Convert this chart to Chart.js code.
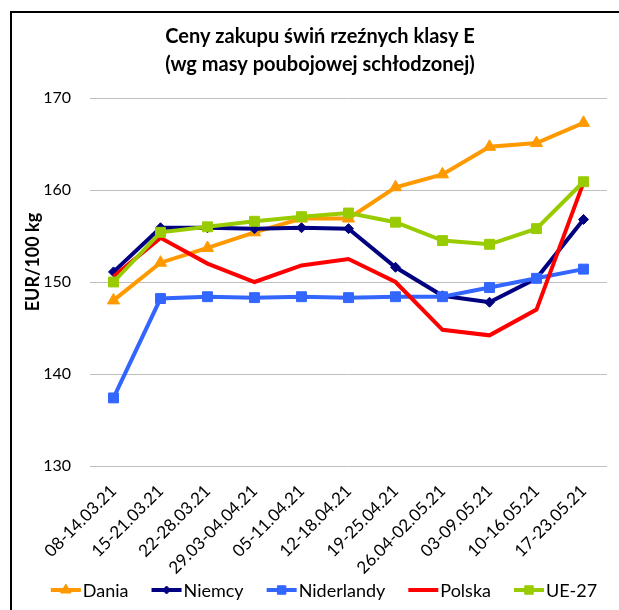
<!DOCTYPE html>
<html>
<head>
<meta charset="utf-8">
<script src="https://cdn.jsdelivr.net/npm/chart.js@4/dist/chart.umd.min.js"></script>
<style>
  html, body { margin:0; padding:0; background:#fff; }
  #wrap { position:relative; width:619px; height:610px; overflow:hidden; }
  #frame { position:absolute; left:10px; top:11px; width:640px; height:640px; border-left:2px solid #000; border-top:2px solid #000; }
  canvas { position:absolute; left:0; top:0; }
</style>
</head>
<body>
<div id="wrap">
  <div id="frame"></div>
  <canvas id="c" width="619" height="610"></canvas>
</div>
<script>
const titleLines = ['Ceny zakupu świń rzeźnych klasy E', '(wg masy poubojowej schłodzonej)'];
const yTitle = 'EUR/100 kg';
const categories = ['08-14.03.21','15-21.03.21','22-28.03.21','29.03-04.04.21','05-11.04.21','12-18.04.21','19-25.04.21','26.04-02.05.21','03-09.05.21','10-16.05.21','17-23.05.21'];
const seriesNames = ['Dania','Niemcy','Niderlandy','Polska','UE-27'];
const dania      = [148.0,152.1,153.7,155.4,156.9,156.9,160.3,161.7,164.7,165.1,167.3];
const niemcy     = [151.1,155.9,155.9,155.8,155.9,155.8,151.6,148.5,147.8,150.4,156.8];
const niderlandy = [137.4,148.2,148.4,148.3,148.4,148.3,148.4,148.4,149.4,150.4,151.4];
const polska     = [150.6,154.8,152.0,150.0,151.8,152.5,150.0,144.8,144.2,147.0,160.8];
const ue27       = [150.0,155.4,156.0,156.6,157.1,157.5,156.5,154.5,154.1,155.8,160.9];
const yTicks = [130,140,150,160,170];

const colors = ['#FF9900','#000080','#3366FF','#FF0000','#99CC00'];
const styles = ['triangle','rectRot','rect',false,'rect'];
const radii  = [7,5,7,0,7];
const orders = [4,3,2,1,0];
const values = [dania, niemcy, niderlandy, polska, ue27];

const datasets = seriesNames.map((n,i)=>({
  label:n, data:values[i], borderColor:colors[i], backgroundColor:colors[i],
  borderWidth:4, pointStyle:styles[i], pointRadius:radii[i], pointHoverRadius:radii[i],
  pointBorderWidth:1, pointBorderColor:colors[i], pointBackgroundColor:colors[i],
  tension:0, order:orders[i], fill:false
}));

const FONT = 'Lato';

const overlay = {
  id:'overlay',
  afterDraw(chart){
    const ctx = chart.ctx;
    ctx.save();
    ctx.fillStyle = '#000';
    ctx.textAlign = 'center';
    ctx.textBaseline = 'middle';
    ctx.font = 'bold 20px ' + FONT;
    titleLines.forEach((t,i)=>ctx.fillText(t, 320, 37 + i*28));
    ctx.save();
    ctx.translate(33, 262);
    ctx.rotate(-Math.PI/2);
    ctx.font = 'bold 18px ' + FONT;
    ctx.fillText(yTitle, 0, 0);
    ctx.restore();
    // legend
    ctx.font = '18px ' + FONT;
    const symW = 30, gapT = 2, gapI = 23;
    const widths = seriesNames.map(n=>ctx.measureText(n).width);
    const total = widths.reduce((a,w)=>a+symW+gapT+w,0) + gapI*(seriesNames.length-1);
    let x = 324 - total/2;
    const y = 590;
    seriesNames.forEach((n,i)=>{
      ctx.strokeStyle = colors[i];
      ctx.lineWidth = 4;
      ctx.beginPath(); ctx.moveTo(x, y); ctx.lineTo(x+symW, y); ctx.stroke();
      if (styles[i]) {
        ctx.fillStyle = colors[i];
        ctx.lineWidth = 1;
        Chart.helpers.drawPoint(ctx, {pointStyle:styles[i], radius:radii[i]-1, borderWidth:1, rotation:0}, x+symW/2, y);
      }
      ctx.fillStyle = '#000';
      ctx.textAlign = 'left';
      ctx.fillText(n, x+symW+gapT, y+1);
      x += symW + gapT + widths[i] + gapI;
    });
    ctx.restore();
  }
};

new Chart(document.getElementById('c'), {
  type:'line',
  data:{ labels:categories, datasets },
  options:{
    responsive:false, animation:false, devicePixelRatio:1,
    layout:{ padding:{ top:98, left:0, right:12, bottom:0 } },
    plugins:{ legend:{display:false}, title:{display:false}, tooltip:{enabled:false} },
    scales:{
      x:{
        offset:true,
        grid:{ display:false, drawTicks:false },
        border:{ display:false },
        ticks:{ autoSkip:false, minRotation:45, maxRotation:45, padding:15, color:'#000', font:{ family:FONT, size:17 } },
        afterFit(s){ s.height = 144; }
      },
      y:{
        min:130, max:170,
        afterBuildTicks(s){ s.ticks = yTicks.map(v=>({value:v})); },
        grid:{ color:'#BFBFBF', lineWidth:1, drawTicks:false },
        border:{ display:false },
        ticks:{ padding:19, color:'#000', font:{ family:FONT, size:16 } },
        afterFit(s){ s.width = 90; }
      }
    }
  },
  plugins:[overlay]
});
</script>
</body>
</html>
